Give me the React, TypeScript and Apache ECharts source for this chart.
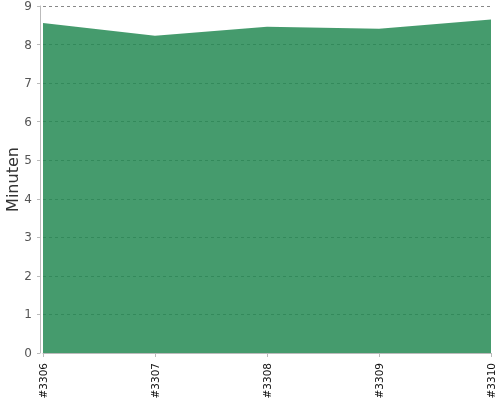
import React, { useEffect, useRef } from 'react';
import * as echarts from 'echarts';
import type { EChartsOption } from 'echarts';

const builds = ['#3306', '#3307', '#3308', '#3309', '#3310'];
const minutes = [8.56, 8.23, 8.46, 8.41, 8.65];

const App: React.FC = () => {
  const chartRef = useRef<HTMLDivElement>(null);

  useEffect(() => {
    if (!chartRef.current) return;
    const chart = echarts.init(chartRef.current, undefined, { renderer: 'svg' });

    const option: EChartsOption = {
      animation: false,
      textStyle: { fontFamily: 'DejaVu Sans' },
      grid: { left: 43, right: 9, top: 6, bottom: 47, containLabel: false, outerBoundsMode: 'none' } as any,
      xAxis: {
        type: 'category',
        data: builds,
        boundaryGap: false,
        offset: 4,
        axisLine: { lineStyle: { color: '#bbb' } },
        axisTick: { length: 4, lineStyle: { color: '#bbb' } },
        axisLabel: { rotate: 90, fontSize: 10.5, color: '#111', margin: 6 },
        splitLine: { show: false },
      },
      yAxis: {
        type: 'value',
        min: 0,
        max: 9,
        interval: 1,
        offset: 3,
        name: 'Minuten',
        nameLocation: 'middle',
        nameGap: 20,
        nameMoveOverlap: false,
        nameTextStyle: { fontSize: 16, color: '#333' },
        axisLine: { show: true, lineStyle: { color: '#bbb' } },
        axisTick: { show: true, length: 3, lineStyle: { color: '#bbb' } },
        axisLabel: { fontSize: 12, color: '#555', margin: 8 },
        splitLine: { lineStyle: { color: '#888', type: [3, 3], width: 1 } },
      } as any,
      series: [
        {
          type: 'line',
          data: minutes,
          symbol: 'none',
          lineStyle: { width: 0 },
          // semi-transparent so the dashed grid shows through like the original
          areaStyle: { color: '#248a54', opacity: 0.85 },
          itemStyle: { color: '#459c6e' },
        },
      ],
    };

    chart.setOption(option);
    return () => chart.dispose();
  }, []);

  return (
    <div
      ref={chartRef}
      style={{ position: 'fixed', left: 0, top: 0, width: '500px', height: '400px' }}
    />
  );
};

export default App;
